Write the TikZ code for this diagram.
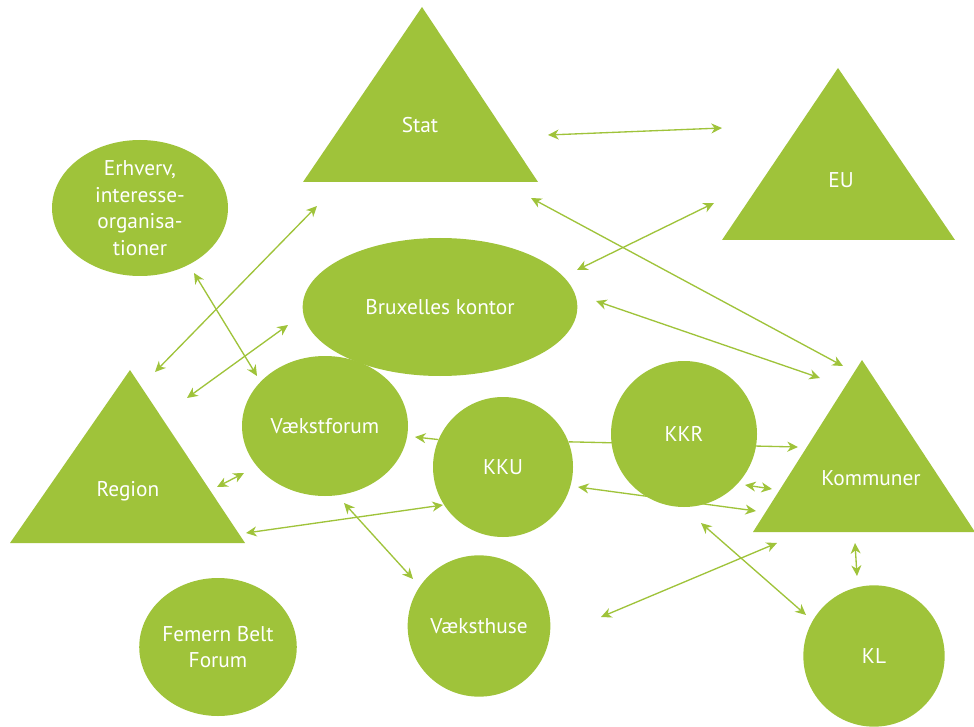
\documentclass[tikz,border=0pt]{standalone}
\usepackage{fontspec}
\setmainfont{PT Sans}
\usetikzlibrary{shapes.geometric, arrows.meta, backgrounds}
\definecolor{leaf}{RGB}{159,195,58}
\tikzstyle{blob} = [ellipse, fill=leaf, inner sep=0, text=white, align=center,
 font=\fontsize{16}{20}\selectfont]
\tikzstyle{disc} = [blob, circle]
\tikzstyle{tri-label} = [text=white, font=\fontsize{16}{20}\selectfont, inner sep=0]
\tikzstyle{link} = [draw=leaf, line width=1pt, -{Stealth[length=8pt, width=7.5pt, inset=2.5pt]}]
\tikzstyle{link-double} = [link, {Stealth[length=8pt, width=7.5pt, inset=2.5pt]}-{Stealth[length=8pt, width=7.5pt, inset=2.5pt]}]

\begin{document}
\begin{tikzpicture}[x=0.75pt, y=-0.75pt]
\useasboundingbox (0,0) rectangle (974,727);

% Triangles
\fill[leaf] (303,182) -- (422,7) -- (538,182) -- cycle;
\node (STAT) [tri-label] at (420,125) {Stat};
\fill[leaf] (722,240) -- (838,68) -- (955,240) -- cycle;
\node (EU) [tri-label] at (841,180) {EU};
\fill[leaf] (10,543) -- (130,370) -- (245,543) -- cycle;
\node (REGION) [tri-label] at (128,491) {Region};
\fill[leaf] (753,532) -- (862,360) -- (975,532) -- cycle;
\node (KOMMUNER) [tri-label] at (871,478) {Kommuner};

% Round bodies
\node (ERHVERV) [blob, minimum width=132pt, minimum height=102pt] at (140,208)
  {Erhverv,\\interesse-\\organisa-\\tioner};
\node (BRUXELLES) [blob, minimum width=206pt, minimum height=103.5pt] at (440,307) {Bruxelles kontor};
\node (VAEKSTFORUM) [blob, minimum width=124.5pt, minimum height=105pt] at (325,426) {Vækstforum};
\node (KKU) [disc, minimum size=105pt] at (503,467) {KKU};
\node (FEMERN) [blob, minimum width=109.5pt, minimum height=103.5pt] at (218,647) {Femern Belt\\Forum};
\node (VAEKSTHUSE) [blob, minimum width=107pt, minimum height=106pt] at (479,626) {Væksthuse};
\node (KL) [disc, minimum size=106pt] at (874,656) {KL};

% Arrows passing under KKR
\begin{scope}[on background layer]
\draw[link] (KKU.21) -- (798,447) coordinate (KOMMUNER_W);
\draw[link-double] (578,487) coordinate (KKU_SE) -- (756,511) coordinate (KOMMUNER_SW);
\end{scope}

\node (KKR) [disc, minimum size=109.5pt] at (684,434) {KKR};

% Arrow ends
\coordinate (STAT_E) at (548,135);
\coordinate (EU_W) at (722,128);
\coordinate (STAT_SE) at (531,198);
\coordinate (KOMMUNER_N) at (843,366);
\coordinate (EU_SW) at (714,203);
\coordinate (BRUXELLES_NE) at (577,270);
\coordinate (BRUXELLES_E) at (596,301);
\coordinate (KOMMUNER_NW) at (820,378);
\coordinate (REGION_N) at (155,372);
\coordinate (STAT_SW) at (317,206);
\coordinate (ERHVERV_S) at (194,273);
\coordinate (VAEKSTFORUM_N) at (257,376);
\coordinate (REGION_NE) at (187,398);
\coordinate (BRUXELLES_SW) at (288,325);
\coordinate (REGION_E) at (217,487);
\coordinate (VAEKSTFORUM_SW) at (244,473);
\coordinate (REGION_SE) at (246,533);
\coordinate (KKU_SW) at (443,505);
\coordinate (VAEKSTFORUM_E) at (415,437);
\coordinate (KKR_SE) at (745,485);
\coordinate (KOMMUNER_WW) at (772,489);
\coordinate (KKR_S) at (701,523);
\coordinate (KL_NW) at (806,615);
\coordinate (VAEKSTHUSE_E) at (601,617);
\coordinate (KOMMUNER_S) at (777,543);
\coordinate (VAEKSTFORUM_S) at (344,503);
\coordinate (VAEKSTHUSE_NW) at (413,579);
\coordinate (KOMMUNER_B) at (855,543);
\coordinate (KL_N) at (857,576);

% Arrows
\draw[link-double] (STAT_E) -- (EU_W);
\draw[link-double] (STAT_SE) -- (KOMMUNER_N);
\draw[link-double] (EU_SW) -- (BRUXELLES_NE);
\draw[link-double] (BRUXELLES_E) -- (KOMMUNER_NW);
\draw[link-double] (REGION_N) -- (STAT_SW);
\draw[link-double] (ERHVERV_S) -- (VAEKSTFORUM_N);
\draw[link-double] (REGION_NE) -- (BRUXELLES_SW);
\draw[link-double] (REGION_E) -- (VAEKSTFORUM_SW);
\draw[link-double] (REGION_SE) -- (KKU_SW);
\draw[link] (KKU.157) -- (VAEKSTFORUM_E);
\draw[link-double] (KKR_SE) -- (KOMMUNER_WW);
\draw[link-double] (KKR_S) -- (KL_NW);
\draw[link-double] (VAEKSTHUSE_E) -- (KOMMUNER_S);
\draw[link-double] (VAEKSTFORUM_S) -- (VAEKSTHUSE_NW);
\draw[link-double] (KOMMUNER_B) -- (KL_N);

\end{tikzpicture}
\end{document}
